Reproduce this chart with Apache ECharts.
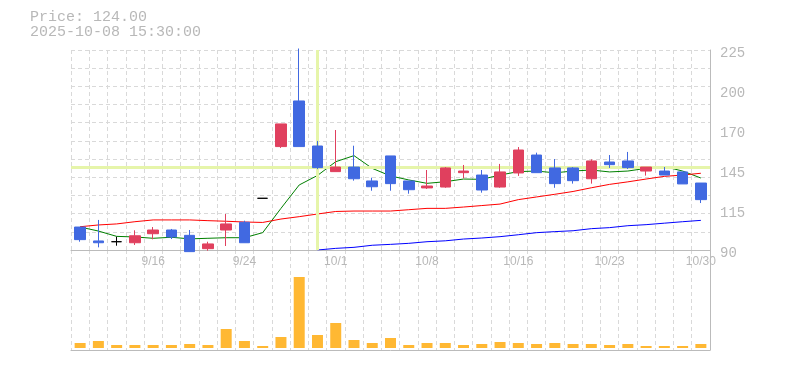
<!DOCTYPE html>
<html><head><meta charset="utf-8">
<script src="https://cdn.jsdelivr.net/npm/echarts@6/dist/echarts.min.js"></script>
<style>html,body{margin:0;padding:0;background:#fff}#c{width:785px;height:370px}</style>
</head><body><div id="c"></div>
<script>
// ---- data ----
const categories = ['9/9','9/10','9/11','9/12','9/16','9/17','9/18','9/19','9/22','9/24','9/25','9/26','9/29','9/30','10/1','10/2','10/3','10/6','10/7','10/8','10/9','10/10','10/14','10/15','10/16','10/17','10/20','10/21','10/22','10/23','10/24','10/27','10/28','10/29','10/30'];
const openP  = [105.5, 96.1, 95.6, 94.9, 101.0, 103.5, 99.9, 90.9, 103.5, 108.7, 124.9, 159.8, 190.6, 160.2, 142.9, 146.0, 136.6, 153.5, 136.6, 131.9, 132.5, 142.2, 140.6, 132.5, 142.0, 154.1, 145.4, 145.4, 138.1, 149.4, 150.1, 143.3, 143.3, 142.7, 135.2];
const closeP = [97.0, 94.9, 95.6, 99.6, 103.5, 98.8, 88.9, 94.1, 107.6, 94.9, 124.9, 175.1, 159.8, 145.6, 146.0, 138.1, 132.7, 134.8, 130.7, 133.2, 145.4, 143.3, 130.5, 142.7, 157.5, 142.2, 134.8, 136.8, 150.1, 147.6, 145.6, 146.0, 140.6, 134.6, 124.0];
const lowP   = [95.6, 91.8, 92.9, 93.4, 97.2, 97.4, 88.9, 89.5, 92.7, 94.9, 124.9, 158.9, 159.8, 144.6, 142.9, 136.8, 130.0, 130.0, 128.0, 131.2, 132.0, 138.4, 128.7, 132.0, 140.0, 142.2, 132.0, 134.8, 134.8, 145.4, 144.7, 140.2, 140.6, 134.6, 121.7];
const highP  = [105.5, 110.3, 99.0, 103.3, 105.5, 104.2, 103.5, 95.6, 114.3, 109.8, 124.9, 175.1, 226.0, 163.6, 171.0, 160.4, 138.8, 153.5, 136.6, 144.0, 146.0, 147.4, 144.0, 148.1, 159.5, 155.7, 151.4, 146.0, 151.2, 154.1, 156.2, 146.0, 146.0, 142.7, 135.2];
const maShort = [105.5, 102.8, 99.2, 98.8, 97.9, 98.6, 97.5, 97.9, 98.3, 98.3, 101.7, 118.1, 133.9, 140.3, 149.6, 153.7, 145.1, 140.0, 137.3, 135.0, 136.1, 137.9, 137.7, 140.6, 142.9, 143.3, 142.1, 143.3, 144.0, 142.7, 143.3, 145.1, 146.3, 143.3, 138.6];
const maMid   = [105.7, 106.9, 107.6, 109.1, 110.3, 110.3, 110.3, 109.8, 109.4, 108.9, 108.6, 110.9, 112.5, 114.3, 116.0, 116.3, 116.3, 116.3, 117.2, 118.1, 118.1, 119.0, 120.0, 121.0, 124.0, 125.8, 127.6, 129.5, 132.0, 134.3, 136.0, 137.9, 139.7, 140.6, 141.8];
const maLong  = [null, null, null, null, null, null, null, null, null, null, null, null, null, 90.0, 91.1, 91.8, 93.2, 93.8, 94.5, 95.6, 96.2, 97.4, 98.1, 99.0, 100.3, 101.7, 102.4, 103.0, 104.4, 105.1, 106.4, 107.1, 108.1, 109.1, 110.0];
const volume  = [5, 7, 3, 3, 3, 3, 4, 3, 19, 7, 2, 11, 71, 13, 25, 8, 5, 10, 3, 5, 5, 3, 4, 6, 5, 4, 5, 4, 4, 3, 4, 2, 2, 2, 4];
const xTickLabels = ['9/16','9/24','10/1','10/8','10/16','10/23','10/30'];
const yTickLabels = ['90','115','145','170','200','225'];
const priceMin = 90, priceMax = 225;
const crossIndex = 13, crossPrice = 145.9;
const headerLines = ['Price: 124.00', '2025-10-08 15:30:00'];

// ---- styles ----
const UP = '#e0405e', DOWN = '#4169e1', DOJI = '#000000';
const GRIDC = '#d9d9d9', AXISC = '#bbbbbb', TEXTC = '#b8b8b8';
const dash = {show: true, interval: 0, lineStyle: {color: GRIDC, width: 1, type: [4, 3]}};

const candleData = categories.map((c, i) => {
  const item = {value: [openP[i], closeP[i], lowP[i], highP[i]]};
  if (openP[i] === closeP[i]) item.itemStyle = {color: DOJI, color0: DOJI, borderColor: DOJI, borderColor0: DOJI, borderColorDoji: DOJI};
  return item;
});

const chart = echarts.init(document.getElementById('c'), null, {renderer: 'canvas'});
chart.setOption({
  animation: false,
  backgroundColor: '#fff',
  title: {
    left: 30, top: 10, padding: 0,
    text: headerLines.join('\n'),
    textStyle: {fontFamily: 'Liberation Mono', fontSize: 15, fontWeight: 'normal', color: TEXTC, lineHeight: 15}
  },
  grid: [
    {left: 71, right: 75, top: 50, height: 200},
    {left: 71, right: 75, top: 250, height: 100},
    {left: 71, right: 75, top: 53.3, height: 200}
  ],
  xAxis: [
    {gridIndex: 0, type: 'category', data: categories, boundaryGap: true,
     axisLine: {onZero: false, lineStyle: {color: AXISC, width: 1}},
     axisTick: {show: false},
     axisLabel: {interval: (i, v) => xTickLabels.includes(v), color: TEXTC, fontSize: 12, fontFamily: 'Liberation Sans', margin: 6},
     splitLine: dash},
    {gridIndex: 1, type: 'category', data: categories, boundaryGap: true,
     axisLine: {onZero: false, lineStyle: {color: AXISC, width: 1}},
     axisTick: {show: false}, axisLabel: {show: false},
     splitLine: dash},
    {gridIndex: 2, type: 'value', show: false}
  ],
  yAxis: [
    {gridIndex: 0, type: 'value', min: priceMin, max: priceMax, show: false},
    {gridIndex: 2, type: 'value', min: 0, max: priceMax - priceMin, interval: 27, position: 'right',
     axisLine: {show: false}, axisTick: {show: false}, splitLine: {show: false},
     axisLabel: {formatter: v => yTickLabels[Math.round(v / 27)], color: TEXTC, fontSize: 14, fontFamily: 'Liberation Mono', margin: 10}},
    {gridIndex: 0, type: 'value', min: 0, max: 11, interval: 1, position: 'right',
     axisLine: {show: true, lineStyle: {color: AXISC, width: 1}}, axisTick: {show: false}, axisLabel: {show: false},
     splitLine: {show: true, lineStyle: {color: GRIDC, width: 1, type: [4, 3]}}},
    {gridIndex: 1, type: 'value', min: -2, max: 98, position: 'right',
     axisLine: {show: true, lineStyle: {color: AXISC, width: 1}},
     axisTick: {show: false}, axisLabel: {show: false}, splitLine: {show: false}}
  ],
  series: [
    {type: 'line', xAxisIndex: 0, yAxisIndex: 0, data: [], z: 2, silent: true,
     markLine: {silent: true, symbol: ['none', 'none'], label: {show: false},
       lineStyle: {color: '#e6f5aa', width: 3, type: 'solid'},
       data: [{xAxis: categories[crossIndex]}, {yAxis: crossPrice}]}},
    {type: 'line', name: 'MA short', xAxisIndex: 0, yAxisIndex: 0, data: maShort, showSymbol: false, symbol: 'none', z: 3,
     lineStyle: {color: '#008000', width: 1}},
    {type: 'line', name: 'MA mid', xAxisIndex: 0, yAxisIndex: 0, data: maMid, showSymbol: false, symbol: 'none', z: 3,
     lineStyle: {color: '#ff0000', width: 1}},
    {type: 'line', name: 'MA long', xAxisIndex: 0, yAxisIndex: 0, data: maLong, showSymbol: false, symbol: 'none', z: 3,
     lineStyle: {color: '#0000ff', width: 1}},
    {type: 'candlestick', xAxisIndex: 0, yAxisIndex: 0, data: candleData, barWidth: 11, clip: false, z: 5,
     itemStyle: {color: UP, color0: DOWN, borderColor: UP, borderColor0: DOWN, borderColorDoji: DOJI, borderWidth: 1}},
    {type: 'bar', xAxisIndex: 1, yAxisIndex: 3, data: volume, barWidth: 11,
     itemStyle: {color: '#ffb833'}}
  ]
});
</script></body></html>
